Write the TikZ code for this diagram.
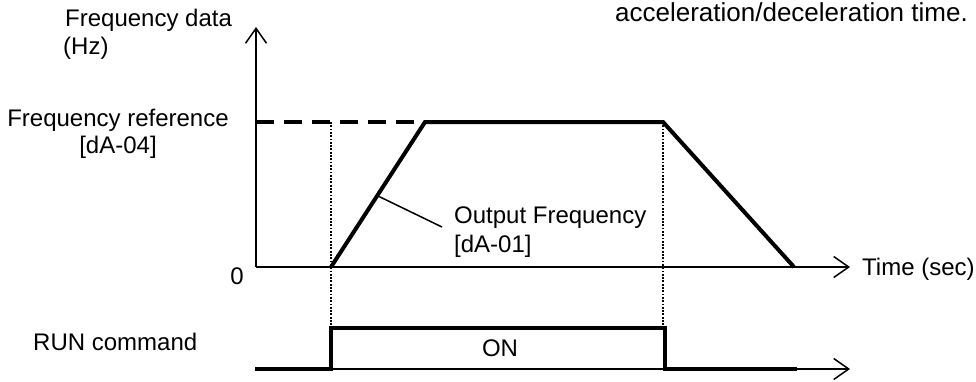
\documentclass[tikz,border=0pt]{standalone}
\usepackage{fontspec}
\setmainfont{Liberation Sans}
\usetikzlibrary{arrows.meta}

\tikzset{
    lbl/.style={inner sep=0pt, font=\fontsize{24}{28}\selectfont},
    axis/.style={line width=1.5pt, -{Straight Barb[length=15pt, width=21pt, line width=1.5pt]}},
    signal/.style={line width=4pt, line join=miter},
    guide/.style={line width=1.8pt, dash pattern=on 1.8pt off 1.5pt},
}

\begin{document}
\begin{tikzpicture}[x=1pt, y=-1pt]
    \useasboundingbox (0,0) rectangle (976,381);

    % Points
    \coordinate (o) at (256,267);
    \coordinate (ytop) at (256,27);
    \coordinate (xend) at (850,267);
    \coordinate (ref) at (256,122);
    \coordinate (start) at (331,267);
    \coordinate (reach) at (425,122);
    \coordinate (stop) at (663,122);
    \coordinate (zero) at (794,267);
    \coordinate (runA) at (255,369);
    \coordinate (runUp) at (331,328);
    \coordinate (runDown) at (665,328);
    \coordinate (runB) at (797,369);
    \coordinate (runEnd) at (850,369);

    % Axes
    \draw[axis] (o) -- (ytop);
    \draw[axis] (o) -- (xend);
    \draw[axis] (runA) -- (runEnd);

    % Reference level and guides
    \draw[line width=3.5pt, dash pattern=on 18pt off 10pt] (ref) -- (stop);
    \draw[guide] (start |- stop) -- (runUp);
    \draw[guide] (stop) -- (stop |- runDown);

    % Output frequency
    \draw[signal] (start) -- (reach) -- (stop) -- (zero);

    % RUN command
    \draw[signal] (runA) -- (runA -| runUp) -- (runUp) -- (runDown) -- (runDown |- runB) -- (runB);

    % Labels
    \node[lbl, anchor=base west] (fdata) at (65,26) {Frequency data};
    \node[lbl, anchor=base west] (hz) at (63,54) {(Hz)};
    \node[lbl, anchor=base] (fref) at (118,126) {Frequency reference};
    \node[lbl, anchor=base] (da04) at (118,153) {[dA-04]};
    \node[lbl, anchor=base east, font=\fontsize{26}{30}\selectfont] (acc) at (968,21) {acceleration/deceleration time.};
    \node[lbl, anchor=base west] (outf) at (454,223) {Output Frequency};
    \node[lbl, anchor=base west] (da01) at (454,252) {[dA-01]};
    \node[lbl, anchor=base west] (time) at (862,275) {Time (sec)};
    \node[lbl, anchor=base] (zlbl) at (237,284) {0};
    \node[lbl, anchor=base west] (run) at (33,350) {RUN command};
    \node[lbl, anchor=base] (on) at (500,356) {ON};

    % Leader
    \coordinate (lead) at (378,196);
    \draw[line width=1.5pt] (lead) -- (442,227);
\end{tikzpicture}
\end{document}
